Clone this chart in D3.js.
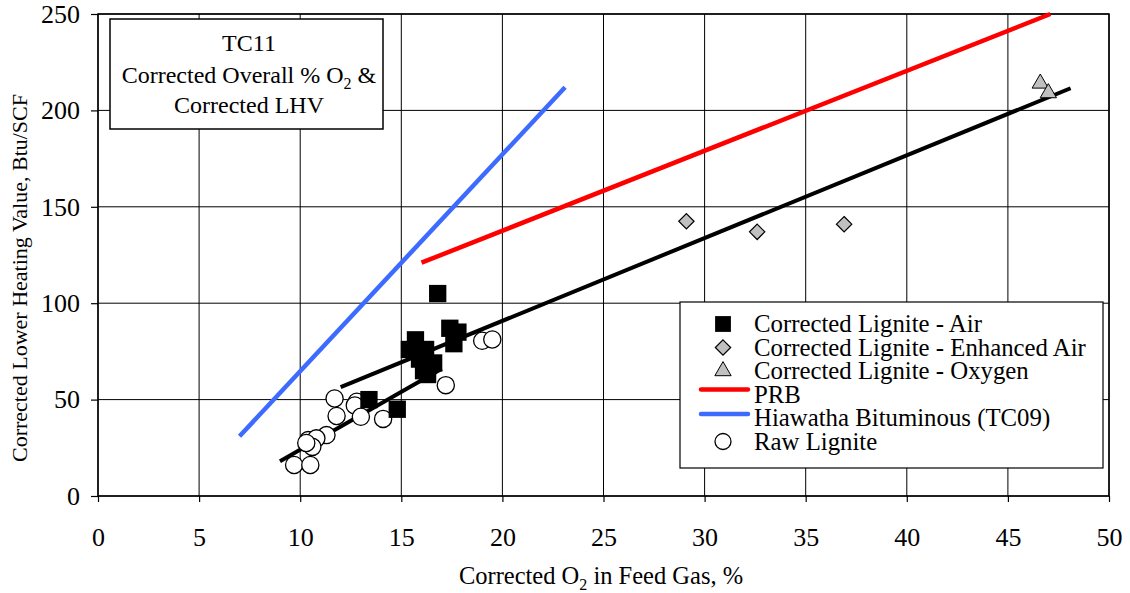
<!DOCTYPE html>
<html>
<head>
<meta charset="utf-8">
<script src="https://cdn.jsdelivr.net/npm/d3@7"></script>
<style>
  html, body { margin: 0; padding: 0; background: #fff; }
  svg { display: block; font-family: "Liberation Serif", "Times New Roman", serif; }
</style>
</head>
<body>
<svg id="chart" width="1130" height="593"></svg>
<script>
// Axis ticks
const xTicks = [0, 5, 10, 15, 20, 25, 30, 35, 40, 45, 50];
const yTicks = [0, 50, 100, 150, 200, 250];

// Corrected lignite, air-blown
const airO2  = [16.8, 15.7, 15.4, 16.2, 15.9, 16.6, 16.1, 16.3, 17.4, 17.8, 17.6, 13.4, 14.8];
const airLHV = [105, 81, 76, 76, 71, 69, 65, 63, 87, 85, 79, 50, 45];

// Corrected lignite, enhanced air
const enhO2  = [29.1, 32.6, 36.9];
const enhLHV = [142.5, 137, 141];

// Corrected lignite, oxygen-blown
const oxyO2  = [46.6, 47.0];
const oxyLHV = [214, 209];

// Raw lignite
const rawO2  = [19.0, 19.5, 17.2, 11.7, 12.8, 12.7, 13.0, 11.8, 14.1, 11.3, 10.4, 10.8, 10.6, 10.3, 9.7, 10.5];
const rawLHV = [80.5, 81.2, 57.5, 50.6, 48.9, 47.0, 41.1, 41.5, 40.0, 31.6, 29.0, 29.9, 25.5, 27.5, 16.1, 16.1];

// Reference trend lines (start, end)
const prbO2 = [16.0, 47.1],  prbLHV = [121, 250];
const hiaO2 = [7.0, 23.1],   hiaLHV = [31, 212];
const airFitO2 = [12.0, 48.1], airFitLHV = [56.5, 211.5];
const rawFitO2 = [9.0, 17.0],  rawFitLHV = [18, 66];

const legendLabels = [
  "Corrected Lignite - Air",
  "Corrected Lignite - Enhanced Air",
  "Corrected Lignite - Oxygen",
  "PRB",
  "Hiawatha Bituminous (TC09)",
  "Raw Lignite"
];

const svg = d3.select("#chart");
const plotL = 98, plotR = 1109, plotT = 14, plotB = 496;

const x = d3.scaleLinear().domain([0, 50]).range([plotL, plotR]);
const y = d3.scaleLinear().domain([0, 250]).range([plotB, plotT]);

// Grid
const grid = svg.append("g");
grid.selectAll("line.vx").data(xTicks).join("line")
  .attr("x1", d => x(d)).attr("x2", d => x(d))
  .attr("y1", plotT).attr("y2", plotB)
  .attr("stroke", "#000").attr("stroke-width", 1);
grid.selectAll("line.hy").data(yTicks).join("line")
  .attr("x1", plotL).attr("x2", plotR)
  .attr("y1", d => y(d)).attr("y2", d => y(d))
  .attr("stroke", "#000").attr("stroke-width", 1);

// Axes
const xAxis = d3.axisBottom(x).tickValues(xTicks).tickSize(6).tickPadding(26);
const yAxis = d3.axisLeft(y).tickValues(yTicks).tickSize(7).tickPadding(11);

const gx = svg.append("g").attr("transform", `translate(0,${plotB})`).call(xAxis);
const gy = svg.append("g").attr("transform", `translate(${plotL},0)`).call(yAxis);
[gx, gy].forEach(g => {
  g.select(".domain").remove();
  g.selectAll(".tick line").attr("stroke", "#000").attr("stroke-width", 1.2);
  g.selectAll(".tick text")
    .attr("fill", "#000")
    .style("font-family", "'Liberation Serif', 'Times New Roman', serif")
    .style("font-size", "26px");
});

// Plot frame
svg.append("rect")
  .attr("x", plotL).attr("y", plotT)
  .attr("width", plotR - plotL).attr("height", plotB - plotT)
  .attr("fill", "none").attr("stroke", "#000").attr("stroke-width", 1.5);

// Trend lines
const seg = (xs, ys) => xs.map((v, i) => [x(v), y(ys[i])]);
const lineGen = d3.line();
const lines = [
  { pts: seg(rawFitO2, rawFitLHV), color: "#000", w: 4 },
  { pts: seg(airFitO2, airFitLHV), color: "#000", w: 4 },
  { pts: seg(prbO2, prbLHV), color: "#ff0000", w: 4.5 },
  { pts: seg(hiaO2, hiaLHV), color: "#3d6bff", w: 4.5 }
];
svg.append("g").selectAll("path").data(lines).join("path")
  .attr("d", d => lineGen(d.pts))
  .attr("fill", "none")
  .attr("stroke", d => d.color)
  .attr("stroke-width", d => d.w);

// Markers
const sym = {
  square:   d3.symbol().type(d3.symbolSquare).size(300),
  diamond:  d3.symbol().type(d3.symbolDiamond2).size(150),
  triangle: d3.symbol().type(d3.symbolTriangle2).size(190)
};

const zip = (a, b) => a.map((v, i) => [v, b[i]]);

svg.append("g").selectAll("circle").data(zip(rawO2, rawLHV)).join("circle")
  .attr("cx", d => x(d[0])).attr("cy", d => y(d[1])).attr("r", 8.6)
  .attr("fill", "#fff").attr("stroke", "#000").attr("stroke-width", 1.3);

svg.append("g").selectAll("path").data(zip(airO2, airLHV)).join("path")
  .attr("d", sym.square())
  .attr("transform", d => `translate(${x(d[0])},${y(d[1])})`)
  .attr("fill", "#000");

svg.append("g").selectAll("path").data(zip(enhO2, enhLHV)).join("path")
  .attr("d", sym.diamond())
  .attr("transform", d => `translate(${x(d[0])},${y(d[1])})`)
  .attr("fill", "#c0c0c0").attr("stroke", "#000").attr("stroke-width", 1.2);

svg.append("g").selectAll("path").data(zip(oxyO2, oxyLHV)).join("path")
  .attr("d", sym.triangle())
  .attr("transform", d => `translate(${x(d[0])},${y(d[1])})`)
  .attr("fill", "#c0c0c0").attr("stroke", "#000").attr("stroke-width", 1);

// Title box
const tb = svg.append("g");
tb.append("rect").attr("x", 110).attr("y", 19).attr("width", 273).attr("height", 110)
  .attr("fill", "#fff").attr("stroke", "#000").attr("stroke-width", 1.5);
const tcx = 249;
tb.append("text").attr("x", tcx).attr("y", 51).attr("text-anchor", "middle")
  .style("font-size", "24px").text("TC11");
const t2 = tb.append("text").attr("x", tcx).attr("y", 83).attr("text-anchor", "middle")
  .style("font-size", "24px");
t2.append("tspan").text("Corrected Overall % O");
t2.append("tspan").attr("dy", 6).style("font-size", "16px").text("2");
t2.append("tspan").attr("dy", -6).text(" &");
tb.append("text").attr("x", tcx).attr("y", 113).attr("text-anchor", "middle")
  .style("font-size", "24px").text("Corrected LHV");

// Legend
const lg = svg.append("g");
lg.append("rect").attr("x", 680).attr("y", 302).attr("width", 423).attr("height", 166)
  .attr("fill", "#fff").attr("stroke", "#000").attr("stroke-width", 1.2);
const rowY = i => 324 + i * 23.5;
const symX = 723;
lg.selectAll("text").data(legendLabels).join("text")
  .attr("x", 754).attr("y", (d, i) => rowY(i) + 8)
  .style("font-size", "24.8px").text(d => d);
lg.append("path").attr("d", d3.symbol().type(d3.symbolSquare).size(250)())
  .attr("transform", `translate(${symX},${rowY(0)})`).attr("fill", "#000");
lg.append("path").attr("d", sym.diamond())
  .attr("transform", `translate(${symX},${rowY(1)})`)
  .attr("fill", "#c0c0c0").attr("stroke", "#000").attr("stroke-width", 1.2);
lg.append("path").attr("d", sym.triangle())
  .attr("transform", `translate(${symX},${rowY(2)})`)
  .attr("fill", "#c0c0c0").attr("stroke", "#000").attr("stroke-width", 1);
lg.append("line").attr("x1", 701).attr("x2", 748).attr("y1", rowY(3) - 5).attr("y2", rowY(3) - 5)
  .attr("stroke", "#ff0000").attr("stroke-width", 4.5).attr("stroke-linecap", "round");
lg.append("line").attr("x1", 701).attr("x2", 748).attr("y1", rowY(4) - 4).attr("y2", rowY(4) - 4)
  .attr("stroke", "#3d6bff").attr("stroke-width", 4.5).attr("stroke-linecap", "round");
lg.append("circle").attr("cx", symX).attr("cy", rowY(5)).attr("r", 8)
  .attr("fill", "#fff").attr("stroke", "#000").attr("stroke-width", 1.3);

// Axis titles
const xt = svg.append("text").attr("x", 601).attr("y", 584).attr("text-anchor", "middle")
  .style("font-size", "24.5px");
xt.append("tspan").text("Corrected O");
xt.append("tspan").attr("dy", 6).style("font-size", "16px").text("2");
xt.append("tspan").attr("dy", -6).text(" in Feed Gas, %");

svg.append("text")
  .attr("transform", "translate(27,278) rotate(-90)")
  .attr("text-anchor", "middle")
  .style("font-size", "22px")
  .text("Corrected Lower Heating Value, Btu/SCF");
</script>
</body>
</html>
